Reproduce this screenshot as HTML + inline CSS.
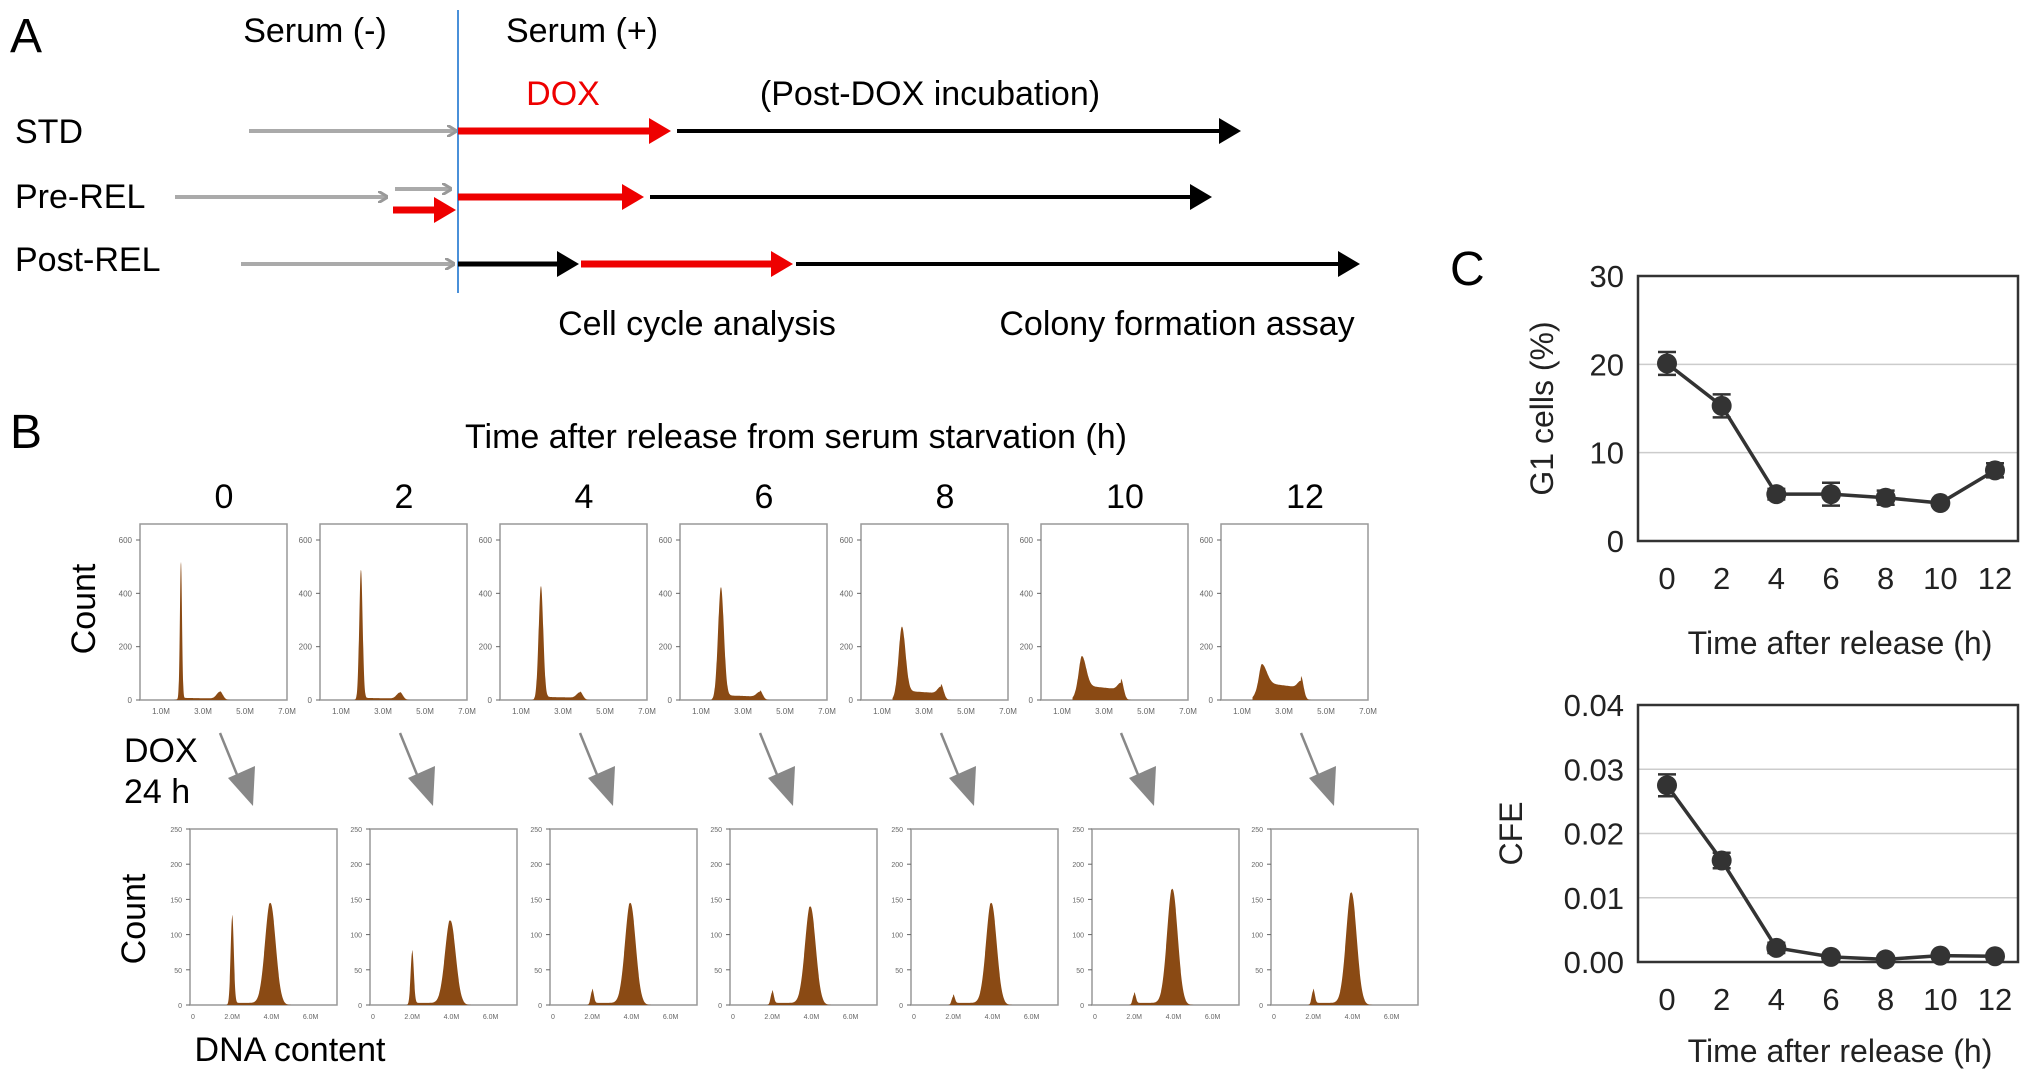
<!DOCTYPE html>
<html><head><meta charset="utf-8"><style>
html,body{margin:0;padding:0;background:#fff;}
svg{display:block;font-family:"Liberation Sans",sans-serif;}
</style></head><body>
<svg id="fig" width="2031" height="1083" viewBox="0 0 2031 1083" xmlns="http://www.w3.org/2000/svg">
<defs>
<marker id="ag" markerWidth="10" markerHeight="12" refX="9" refY="6" orient="auto" markerUnits="userSpaceOnUse"><path d="M0,0 L10,6 L0,12" fill="none" stroke="#999" stroke-width="3"/></marker>
</defs>
<g>
<text x="10" y="52" font-size="48">A</text>
<text x="315" y="42" font-size="34" text-anchor="middle">Serum (-)</text>
<text x="582" y="42" font-size="34" text-anchor="middle">Serum  (+)</text>
<line x1="458" y1="10" x2="458" y2="293" stroke="#4a90d9" stroke-width="2"/>
<text x="563" y="105" font-size="34" fill="#e00" text-anchor="middle">DOX</text>
<text x="930" y="105" font-size="34" text-anchor="middle">(Post-DOX incubation)</text>
<text x="15" y="143" font-size="34">STD</text>
<text x="15" y="208" font-size="34">Pre-REL</text>
<text x="15" y="271" font-size="34">Post-REL</text>
<text x="697" y="335" font-size="34" text-anchor="middle">Cell cycle analysis</text>
<text x="1177" y="335" font-size="34" text-anchor="middle">Colony formation assay</text>
<g id="arrows"></g>
</g>
<g>
<text x="10" y="448" font-size="48">B</text>
<text x="796" y="448" font-size="34" text-anchor="middle">Time after release from serum starvation (h)</text>
<text x="124" y="762" font-size="34">DOX</text>
<text x="124" y="803" font-size="34">24 h</text>
<text transform="translate(95,609) rotate(-90)" font-size="34" text-anchor="middle">Count</text>
<text transform="translate(145,919) rotate(-90)" font-size="34" text-anchor="middle">Count</text>
<text x="290" y="1061" font-size="34" text-anchor="middle">DNA content</text>
<g id="hists"></g>
</g>
<g>
<text x="1450" y="285" font-size="48">C</text>
<g id="chartG1"></g>
<g id="chartCFE"></g>
</g>
</svg>
<script>
const timeLabels = [0, 2, 4, 6, 8, 10, 12];
const g1Values = [20.1, 15.3, 5.3, 5.3, 4.9, 4.3, 8.0];
const g1Errors = [1.3, 1.3, 0.6, 1.3, 0.8, 0.3, 0.8];
const g1Ticks = [0, 10, 20, 30];
const cfeValues = [0.0275, 0.0158, 0.0022, 0.0008, 0.0004, 0.0010, 0.0009];
const cfeErrors = [0.0017, 0.0012, 0.0008, 0.0002, 0.0002, 0.0002, 0.0002];
const cfeTicks = [0, 0.01, 0.02, 0.03, 0.04];
const cfeTickLabels = ["0.00", "0.01", "0.02", "0.03", "0.04"];
const histTimes = ["0", "2", "4", "6", "8", "10", "12"];
const topG1 = [510, 480, 415, 405, 240, 110, 70];
const topS = [8, 8, 12, 18, 35, 55, 65];
const topG2 = [25, 22, 20, 18, 25, 25, 25];
const botG1 = [125, 75, 20, 18, 12, 15, 20];
const botG2 = [145, 120, 145, 140, 145, 165, 160];

const NS = "http://www.w3.org/2000/svg";
function mk(tag, attrs, parent) {
  const e = document.createElementNS(NS, tag);
  for (const k in attrs) e.setAttribute(k, attrs[k]);
  parent.appendChild(e);
  return e;
}

const arr = document.getElementById('arrows');
function gray(x1, x2, y) {
  const l = mk('line', {x1: x1, y1: y, x2: x2 - 2, y2: y, stroke: '#aaa', 'stroke-width': 4, 'marker-end': 'url(#ag)'}, arr);
  
  
}
function solid(x1, x2, y, col, w) {
  const l = mk('line', {x1: x1, y1: y, x2: x2 - 20, y2: y, stroke: col, 'stroke-width': w}, arr);
  
  
  const p = mk('path', {d: `M${x2 - 22},${y - 13} L${x2},${y} L${x2 - 22},${y + 13} Z`, fill: col}, arr);
  
  
}
gray(249, 458, 131); solid(458, 671, 131, '#e00', 7); solid(677, 1241, 131, '#000', 4);
gray(175, 389, 197); gray(395, 453, 189); solid(393, 456, 210, '#e00', 7);
solid(458, 644, 197, '#e00', 7); solid(650, 1212, 197, '#000', 4);
gray(241, 456, 264); solid(458, 579, 264, '#000', 5); solid(581, 793, 264, '#e00', 7); solid(796, 1360, 264, '#000', 4);

const hg = document.getElementById('hists');
const topX = [140, 320, 500, 680, 861, 1041, 1221];
const botX = [190, 370, 550, 730, 911, 1092, 1271];
const W = 147;
function gauss(x, m, s) { return Math.exp(-0.5 * ((x - m) / s) ** 2); }
for (let i = 0; i < 7; i++) {
  const t = mk('text', {x: topX[i] + 84, y: 508, 'font-size': 34, 'text-anchor': 'middle'}, hg);
  t.textContent = histTimes[i];
  
  
  const x0 = topX[i], yb = 700, yt = 524, ymax = 660;
  const ys = v => yb - v / ymax * (yb - yt);
  const xs = m => x0 + m / 7.0 * W;
  const box = mk('rect', {x: x0, y: yt, width: W, height: yb - yt, fill: 'none', stroke: '#999', 'stroke-width': 1.5}, hg);
  
  
  [0, 200, 400, 600].forEach(v => {
    const tl = mk('text', {x: x0 - 8, y: ys(v) + 3, 'font-size': 8, fill: '#666', 'text-anchor': 'end'}, hg); tl.textContent = v;
    mk('line', {x1: x0 - 4, x2: x0, y1: ys(v), y2: ys(v), stroke: '#666'}, hg);
  });
  ['1.0M', '3.0M', '5.0M', '7.0M'].forEach((s, k) => {
    const tl = mk('text', {x: xs(1 + 2 * k), y: yb + 14, 'font-size': 8, fill: '#666', 'text-anchor': 'middle'}, hg); tl.textContent = s;
  });
  const w1 = 0.05 + i * 0.03;
  let d = `M${xs(1.5)},${yb}`;
  for (let m = 1.5; m <= 4.6; m += 0.01) {
    const v = topG1[i] * gauss(m, 1.95, w1) + topS[i] * (m > 1.95 && m < 3.8 ? 1 - (m - 1.95) * 0.15 : gauss(m, m < 2 ? 1.95 : 3.8, 0.12)) + topG2[i] * gauss(m, 3.8, 0.15);
    d += ` L${xs(m).toFixed(1)},${ys(v).toFixed(1)}`;
  }
  d += ` L${xs(4.6)},${yb} Z`;
  const p = mk('path', {d: d, fill: '#8a4a14'}, hg);
  
  
  const ax = topX[i] + 80;
  const al = mk('line', {x1: ax, y1: 733, x2: ax + 20, y2: 782, stroke: '#888', 'stroke-width': 2.5}, hg);
  
  
  mk('path', {d: `M${ax + 8},${778} L${ax + 35},${766} L${ax + 33},${806} Z`, fill: '#888'}, hg);
  const bx = botX[i], byb = 1005, byt = 829, bmax = 250;
  const bys = v => byb - v / bmax * (byb - byt);
  const bxs = m => bx + 3 + m / 7.5 * W;
  const bb = mk('rect', {x: bx, y: byt, width: W, height: byb - byt, fill: 'none', stroke: '#999', 'stroke-width': 1.5}, hg);
  
  
  [0, 50, 100, 150, 200, 250].forEach(v => {
    const tl = mk('text', {x: bx - 8, y: bys(v) + 3, 'font-size': 7, fill: '#666', 'text-anchor': 'end'}, hg); tl.textContent = v;
    mk('line', {x1: bx - 4, x2: bx, y1: bys(v), y2: bys(v), stroke: '#666'}, hg);
  });
  ['0', '2.0M', '4.0M', '6.0M'].forEach((s, k) => {
    const tl = mk('text', {x: bxs(2 * k), y: byb + 14, 'font-size': 7, fill: '#666', 'text-anchor': 'middle'}, hg); tl.textContent = s;
  });
  let bd = `M${bxs(1.5)},${byb}`;
  for (let m = 1.5; m <= 5.5; m += 0.01) {
    const v = botG1[i] * gauss(m, 2.0, 0.08) + botG2[i] * gauss(m, 3.95, 0.27) + 3 * (m > 2 && m < 3.9 ? 1 : 0);
    bd += ` L${bxs(m).toFixed(1)},${bys(v).toFixed(1)}`;
  }
  bd += ` L${bxs(5.5)},${byb} Z`;
  const bp = mk('path', {d: bd, fill: '#8a4a14'}, hg);
  
  
}

function lineChart(gid, top, bottom, vmax, ticks, tickLabels, vals, errs, ytitle, titleX) {
  const g = document.getElementById(gid);
  const L = 1638, R = 2018;
  const x = t => 1667 + t / 12 * (1995 - 1667);
  const y = v => bottom - v / vmax * (bottom - top);
  ticks.forEach((tv, k) => {
    if (tv > 0 && tv < vmax) {
      const gl = mk('line', {x1: L, x2: R, y1: y(tv), y2: y(tv), stroke: '#ccc', 'stroke-width': 1.5}, g);
      
      
    }
    const tl = mk('text', {x: L - 14, y: y(tv) + 11, 'font-size': 31, fill: '#222', 'text-anchor': 'end'}, g);
    tl.textContent = tickLabels[k];
    
    
  });
  const fr = mk('rect', {x: L, y: top, width: R - L, height: bottom - top, fill: 'none', stroke: '#333', 'stroke-width': 2.5}, g);
  
  
  timeLabels.forEach(t => {
    const tl = mk('text', {x: x(t), y: bottom + 48, 'font-size': 31, fill: '#222', 'text-anchor': 'middle'}, g);
    tl.textContent = t;
    
    
  });
  const xt = mk('text', {x: 1840, y: bottom + (gid === 'chartG1' ? 113 : 100), 'font-size': 32, fill: '#222', 'text-anchor': 'middle'}, g);
  xt.textContent = 'Time after release (h)';
  
  
  const yt = mk('text', {transform: `translate(${titleX},${(top + bottom) / 2}) rotate(-90)`, 'font-size': 32, fill: '#222', 'text-anchor': 'middle'}, g);
  yt.textContent = ytitle;
  
  
  const pts = timeLabels.map((t, i) => `${x(t)},${y(vals[i])}`).join(' ');
  const pl = mk('polyline', {points: pts, fill: 'none', stroke: '#333', 'stroke-width': 3.5}, g);
  
  
  timeLabels.forEach((t, i) => {
    const e = mk('path', {d: `M${x(t) - 9},${y(vals[i] + errs[i])} h18 M${x(t)},${y(vals[i] + errs[i])} V${y(vals[i] - errs[i])} M${x(t) - 9},${y(vals[i] - errs[i])} h18`, stroke: '#333', 'stroke-width': 2.5, fill: 'none'}, g);
    
    
    const c = mk('circle', {cx: x(t), cy: y(vals[i]), r: 10, fill: '#333'}, g);
    
    
  });
}
lineChart('chartG1', 276, 541, 30, g1Ticks, g1Ticks.map(String), g1Values, g1Errors, 'G1 cells (%)', 1553);
lineChart('chartCFE', 705, 962, 0.04, cfeTicks, cfeTickLabels, cfeValues, cfeErrors, 'CFE', 1522);
</script>
</body></html>
